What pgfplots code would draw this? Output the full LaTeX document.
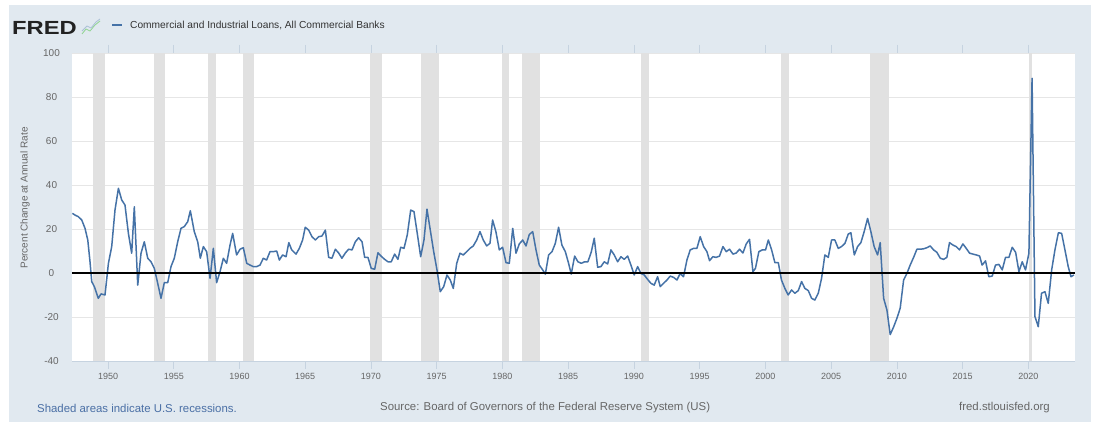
\documentclass[border=0pt]{standalone}
\usepackage{fontspec}
\setmainfont{Liberation Sans}
\usepackage{pgfplots}
\pgfplotsset{compat=1.18}
\usepackage{graphicx}
\definecolor{fredbg}{HTML}{E1E9F0}
\definecolor{fredline}{HTML}{4572A7}
\definecolor{recgray}{HTML}{E1E1E1}
\definecolor{gridgray}{HTML}{E6E6E6}
\definecolor{axisblue}{HTML}{C6D3E0}
\definecolor{txtgray}{HTML}{666666}
\definecolor{titlegray}{HTML}{333333}
\definecolor{linkblue}{HTML}{4A6FA5}
\definecolor{logoblack}{HTML}{222222}
\begin{document}
\begin{tikzpicture}[x=1pt,y=1pt]
\useasboundingbox (0,0) rectangle (1101,425);
\fill[white] (0,0) rectangle (1101,425);
\fill[fredbg] (9,3) rectangle (1091,420);
\begin{axis}[name=ax, at={(72pt,64pt)}, anchor=south west, scale only axis,
  width=1003pt, height=308pt,
  xmin=1947.26, xmax=2023.54, ymin=-40, ymax=100,
  axis background/.style={fill=white},
  axis line style={draw=none},
  xtick={1950,1955,...,2020}, ytick={-40,-20,...,100},
  ymajorgrids, grid style={gridgray, line width=0.8pt},
  tick align=outside, major tick length=8pt,
  xtick style={draw=axisblue, line width=0.8pt}, ytick style={draw=none},
  /pgf/number format/assume math mode=true,
  /pgf/number format/1000 sep={},
  xticklabel style={font=\fontsize{9}{10}\selectfont, text=txtgray, anchor=center, yshift=-7pt},
  yticklabel style={font=\fontsize{10}{12}\selectfont, text=txtgray, anchor=center, xshift=-12.5pt},
]
% recessions
\addplot[fill=recgray, draw=none, forget plot] coordinates {(1948.83,-40) (1948.83,100) (1949.75,100) (1949.75,-40)} --cycle;
\addplot[fill=recgray, draw=none, forget plot] coordinates {(1953.50,-40) (1953.50,100) (1954.33,100) (1954.33,-40)} --cycle;
\addplot[fill=recgray, draw=none, forget plot] coordinates {(1957.62,-40) (1957.62,100) (1958.25,100) (1958.25,-40)} --cycle;
\addplot[fill=recgray, draw=none, forget plot] coordinates {(1960.25,-40) (1960.25,100) (1961.10,100) (1961.10,-40)} --cycle;
\addplot[fill=recgray, draw=none, forget plot] coordinates {(1969.92,-40) (1969.92,100) (1970.83,100) (1970.83,-40)} --cycle;
\addplot[fill=recgray, draw=none, forget plot] coordinates {(1973.83,-40) (1973.83,100) (1975.17,100) (1975.17,-40)} --cycle;
\addplot[fill=recgray, draw=none, forget plot] coordinates {(1980.00,-40) (1980.00,100) (1980.50,100) (1980.50,-40)} --cycle;
\addplot[fill=recgray, draw=none, forget plot] coordinates {(1981.50,-40) (1981.50,100) (1982.83,100) (1982.83,-40)} --cycle;
\addplot[fill=recgray, draw=none, forget plot] coordinates {(1990.50,-40) (1990.50,100) (1991.17,100) (1991.17,-40)} --cycle;
\addplot[fill=recgray, draw=none, forget plot] coordinates {(2001.17,-40) (2001.17,100) (2001.83,100) (2001.83,-40)} --cycle;
\addplot[fill=recgray, draw=none, forget plot] coordinates {(2007.92,-40) (2007.92,100) (2009.42,100) (2009.42,-40)} --cycle;
\addplot[fill=recgray, draw=none, forget plot] coordinates {(2020.08,-40) (2020.08,100) (2020.25,100) (2020.25,-40)} --cycle;
% series
\addplot[fredline, line width=1.5pt, line join=round] coordinates {
(1947.29,27.1) (1947.5,26.3) (1947.74,25.6) (1948.0,24.1) (1948.25,20.3) (1948.46,15) (1948.63,5.1) (1948.76,-3.9) (1948.96,-6.2)
(1949.26,-11.5) (1949.47,-9.5) (1949.77,-10) (1950.03,4.4) (1950.28,12) (1950.53,28.6) (1950.79,38.5) (1951.04,33.2) (1951.29,30.9)
(1951.55,18) (1951.8,9) (1952.0,30.1) (1952.26,-5.5) (1952.51,9) (1952.76,14.2) (1953.02,6.7) (1953.27,5.1) (1953.52,2.1)
(1953.78,-4.7) (1954.03,-11.5) (1954.28,-4.4) (1954.54,-4.4) (1954.79,2.9) (1955.04,6.7) (1955.3,14.2) (1955.55,20.3) (1955.8,21.1)
(1956.06,23.3) (1956.26,28.3) (1956.56,18.8) (1956.82,14.2) (1957.02,6.7) (1957.25,12) (1957.5,9.7) (1957.76,-2.4) (1958.01,11.2)
(1958.26,-4.4) (1958.52,0.6) (1958.77,6.7) (1959.02,4.4) (1959.28,12.7) (1959.48,18) (1959.78,8.2) (1960.04,10.8) (1960.29,11.5)
(1960.55,4.4) (1960.8,3.6) (1961.05,2.9) (1961.3,2.9) (1961.56,3.6) (1961.81,6.7) (1962.06,5.9) (1962.32,9.7) (1962.57,9.7)
(1962.83,10) (1963.03,5.9) (1963.28,8.2) (1963.54,7.4) (1963.75,13.8) (1963.97,10.5) (1964.3,8.6) (1964.55,11.2) (1964.8,15)
(1965.0,20.8) (1965.26,19.5) (1965.51,16.5) (1965.77,15) (1966.02,16.5) (1966.27,16.8) (1966.53,19.5) (1966.78,7.1) (1967.03,6.7)
(1967.29,10.8) (1967.54,9.1) (1967.79,6.7) (1968.05,9.1) (1968.3,10.8) (1968.56,10.5) (1968.81,14.2) (1969.06,16) (1969.32,14.2)
(1969.52,7.1) (1969.77,7.1) (1970.02,2.1) (1970.28,1.7) (1970.53,9.2) (1970.78,7.6) (1971.04,6.2) (1971.29,5.1) (1971.54,5.1)
(1971.8,8.6) (1972.05,6.2) (1972.26,11.7) (1972.51,11.2) (1972.76,17.3) (1973.02,28.6) (1973.27,27.9) (1973.52,18) (1973.78,7.4)
(1974.03,15) (1974.26,29) (1974.51,19.5) (1974.77,9.7) (1975.02,1.4) (1975.27,-8.5) (1975.53,-6.2) (1975.78,-0.9) (1976.03,-3.2)
(1976.26,-7) (1976.52,4.4) (1976.77,9) (1977.02,8.2) (1977.28,9.7) (1977.53,11.2) (1977.78,12.3) (1978.04,15) (1978.29,18.8)
(1978.54,15) (1978.8,12.3) (1979.05,13.5) (1979.25,24.1) (1979.5,18.8) (1979.76,10.5) (1980.01,11.7) (1980.27,4.7) (1980.52,4.4)
(1980.78,20.3) (1981.03,9) (1981.28,13.2) (1981.54,15) (1981.79,12.3) (1982.04,17.5) (1982.3,18.8) (1982.55,10.5) (1982.8,3.6)
(1983.06,1.4) (1983.26,-0.5) (1983.51,8.2) (1983.77,9.7) (1984.02,13.5) (1984.27,20.8) (1984.52,12.7) (1984.78,9.7) (1985.03,4.4)
(1985.23,-0.5) (1985.49,7.7) (1985.74,5.1) (1986.0,4.4) (1986.25,5.1) (1986.5,5.1) (1986.76,9.7) (1986.98,15.8) (1987.24,2.6)
(1987.49,2.9) (1987.74,5.1) (1988.0,4.1) (1988.25,10.5) (1988.5,8.2) (1988.76,5.1) (1989.01,7.4) (1989.26,6.2) (1989.52,7.7)
(1989.77,3.6) (1990.02,-0.9) (1990.28,2.9) (1990.53,-0.2) (1990.78,-0.9) (1991.04,-2.9) (1991.29,-4.7) (1991.54,-5.5) (1991.8,-1.7)
(1992.0,-6.2) (1992.25,-4.7) (1992.51,-3.2) (1992.76,-1.4) (1993.02,-2.0) (1993.27,-3.2) (1993.52,-0.2) (1993.77,-1.7) (1994.03,5.9)
(1994.28,10.5) (1994.54,11.2) (1994.79,11.2) (1995.04,16.5) (1995.3,12) (1995.55,9.7) (1995.75,5.6) (1996.0,7.4) (1996.25,7.1)
(1996.51,7.7) (1996.77,12) (1997.02,9.7) (1997.27,10.8) (1997.53,8.6) (1997.78,9.1) (1998.03,10.8) (1998.29,9.1) (1998.54,13.2)
(1998.79,15.3) (1999.05,0.6) (1999.24,2.1) (1999.5,9.7) (1999.76,10.5) (2000.01,10.5) (2000.22,15) (2000.47,10.5) (2000.72,4.7)
(2000.98,4.7) (2001.22,-3.2) (2001.48,-7) (2001.73,-10) (2001.99,-7.7) (2002.24,-9.2) (2002.5,-8.0) (2002.75,-3.9) (2003.0,-7)
(2003.26,-8) (2003.51,-11.5) (2003.76,-12.3) (2004.02,-9.2) (2004.27,-2.4) (2004.52,8.2) (2004.78,7.1) (2005.03,15) (2005.28,15)
(2005.54,11.2) (2005.79,12) (2006.05,13.5) (2006.3,17.7) (2006.5,18.3) (2006.76,8.2) (2007.01,12) (2007.26,13.8) (2007.51,18.8)
(2007.77,24.8) (2008.02,18.8) (2008.27,12) (2008.53,8.2) (2008.73,13.8) (2008.99,-11.5) (2009.24,-16.8) (2009.49,-28) (2009.75,-24.5)
(2010.0,-20.6) (2010.25,-16) (2010.51,-3.2) (2010.76,-0.2) (2011.01,3.6) (2011.27,7.1) (2011.52,10.8) (2011.77,10.8) (2012.03,11)
(2012.28,11.5) (2012.53,12.3) (2012.79,10.5) (2013.04,9.4) (2013.3,6.7) (2013.55,6.2) (2013.8,7.1) (2014.0,13.8) (2014.26,12.7)
(2014.51,12) (2014.76,10.5) (2015.02,13.2) (2015.27,11.2) (2015.53,9) (2015.78,8.6) (2016.04,8.2) (2016.29,7.7) (2016.48,3.6)
(2016.74,5.5) (2016.99,-1.7) (2017.25,-1.4) (2017.5,3.6) (2017.76,3.9) (2018.01,1.4) (2018.26,7.1) (2018.52,7.1) (2018.77,11.7)
(2019.03,9.4) (2019.28,0.6) (2019.53,5.1) (2019.78,1.4) (2020.04,9) (2020.28,88.5) (2020.5,-19.8) (2020.75,-24.4) (2021.0,-9.2)
(2021.26,-8.5) (2021.51,-13.8) (2021.77,1.4) (2022.02,10.5) (2022.28,18.3) (2022.53,18) (2022.78,10.5) (2023.03,2.9) (2023.24,-1.7)
(2023.46,-0.9)
};
\addplot[black, line width=1.5pt, forget plot] coordinates {(1947.26,0) (2023.54,0)};
\end{axis}
\draw[axisblue, line width=0.8pt] (ax.south west) -- (ax.south east);
% y label
\node[rotate=90, text=txtgray, font=\fontsize{10}{12}\selectfont] at (25,227) {Percent Change at Annual Rate};
% header
\node[anchor=west, inner sep=0, font=\fontsize{19}{20}\selectfont\bfseries, text=logoblack] at (12,397.5) {\scalebox{1.25}[1]{FRED}};
\draw[green!45!gray!60, line width=0.8pt, line join=round] (82,391) -- (86,396) -- (90,394) -- (95,400) -- (100,404);
\draw[fredline!45, line width=0.8pt, line join=round] (82,394) -- (87,399) -- (91,397) -- (96,403) -- (100,406);
\draw[fredline, line width=2pt] (112,400) -- (122,400);
\node[anchor=west, inner sep=0, font=\fontsize{10.2}{12}\selectfont, text=titlegray] at (130,400) {Commercial and Industrial Loans, All Commercial Banks};
% footer
\node[anchor=west, inner sep=0, font=\fontsize{11.4}{13}\selectfont, text=linkblue] at (37,17) {Shaded areas indicate U.S. recessions.};
\node[anchor=west, inner sep=0, font=\fontsize{11.4}{13}\selectfont, text=txtgray] at (380,17) {Source: Board of Governors of the Federal Reserve System (US)};
\node[anchor=east, inner sep=0, font=\fontsize{11.4}{13}\selectfont, text=txtgray] at (1050,17) {fred.stlouisfed.org};
\end{tikzpicture}
\end{document}
